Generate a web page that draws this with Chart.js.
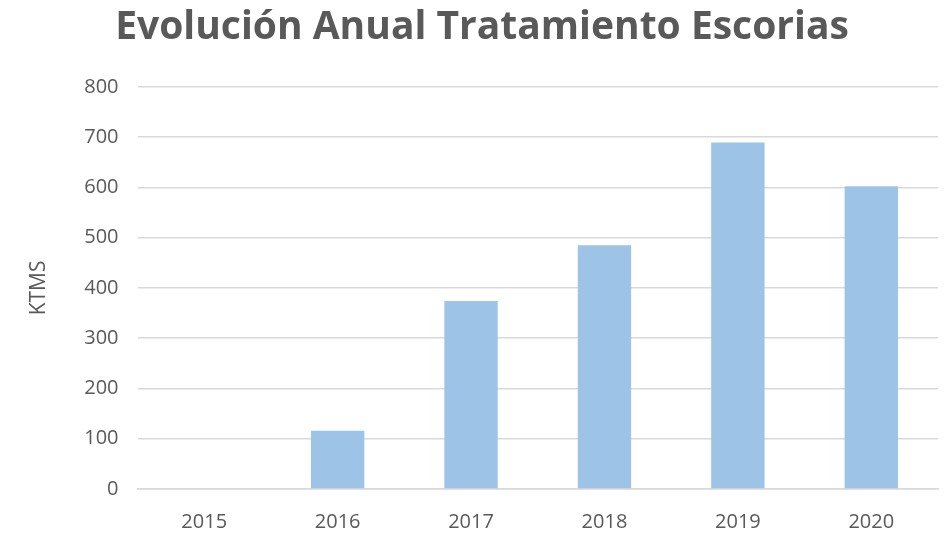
<!DOCTYPE html>
<html>
<head>
<meta charset="utf-8">
<script src="https://cdn.jsdelivr.net/npm/chart.js@4"></script>
<style>
  html, body { margin: 0; padding: 0; background: #fff; }
  #wrap { width: 948px; height: 533px; }
</style>
</head>
<body>
<div id="wrap"><canvas id="escoriasChart"></canvas></div>
<script>
// data
const years = ['2015', '2016', '2017', '2018', '2019', '2020'];
const ktms = [0, 116, 374, 485, 689, 602];
const yTicks = [0, 100, 200, 300, 400, 500, 600, 700, 800];

const textGray = '#595959';

const ctx = document.getElementById('escoriasChart').getContext('2d');
new Chart(ctx, {
    type: 'bar',
    data: {
        labels: years,
        datasets: [{
            label: 'KTMS',
            data: ktms,
            backgroundColor: '#9dc3e6',
            barPercentage: 0.4,
            categoryPercentage: 1.0
        }]
    },
    options: {
        responsive: true,
        maintainAspectRatio: false,
        animation: false,
        layout: { padding: { left: 26, right: 10, top: 4, bottom: -22 } },
        plugins: {
            legend: { display: false },
            tooltip: { enabled: false },
            title: {
                display: true,
                text: 'Evolución Anual Tratamiento Escorias',
                color: textGray,
                font: { family: 'Open Sans', size: 39, weight: 'bold' },
                padding: { top: 0, bottom: 36 }
            }
        },
        scales: {
            x: {
                grid: { display: false, drawTicks: false },
                border: { display: true, color: '#d9d9d9', width: 1.5 },
                ticks: {
                    color: textGray,
                    font: { family: 'Open Sans', size: 20 },
                    padding: 21
                }
            },
            y: {
                min: 0,
                max: 800,
                afterBuildTicks: (axis) => { axis.ticks = yTicks.map(v => ({ value: v })); },
                grid: { color: '#d9d9d9', lineWidth: 1.5, drawTicks: false },
                border: { display: false },
                ticks: {
                    color: textGray,
                    font: { family: 'Open Sans', size: 20 },
                    padding: 19
                },
                title: {
                    display: true,
                    text: 'KTMS',
                    color: textGray,
                    font: { family: 'Open Sans', size: 21 },
                    padding: { top: 0, bottom: 14 }
                }
            }
        }
    }
});
</script>
</body>
</html>
